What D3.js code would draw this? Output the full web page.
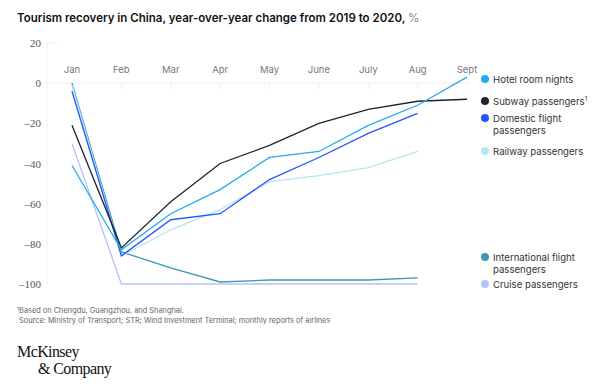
<!DOCTYPE html>
<html>
<head>
<meta charset="utf-8">
<script src="https://cdn.jsdelivr.net/npm/d3@7"></script>
<style>
  body { margin: 0; background: #fff; }
  svg { display: block; }
</style>
</head>
<body>
<svg id="chart" width="600" height="386"></svg>
<script>
// months and y ticks
const months = ['Jan', 'Feb', 'Mar', 'Apr', 'May', 'June', 'July', 'Aug', 'Sept'];
const yTicks = [20, 0, -20, -40, -60, -80, -100];

// series values (null = no data)
const hotel = [-41, -83, -65, -53, -37, -34, -21, -11, 3];
const subway = [-21, -82, -59, -40, -31, -20, -13, -9, -8];
const domestic = [-4, -86, -68, -65, -48, -37, -25, -15, null];
const railway = [-1, -86, -73, -63, -49, -46, -42, -34, null];
const international = [0, -84, -92, -99, -98, -98, -98, -97, null];
const cruise = [-30, -100, -100, -100, -100, -100, -100, -100, null];

const series = [
  { name: ['Hotel room nights'], values: hotel, color: '#27a8f2', ly: 79 },
  { name: ['Subway passengers'], sup: true, values: subway, color: '#1c2431', ly: 101 },
  { name: ['Domestic flight', 'passengers'], values: domestic, color: '#2456ff', ly: 118 },
  { name: ['Railway passengers'], values: railway, color: '#b4e6f0', ly: 151 },
  { name: ['International flight', 'passengers'], values: international, color: '#3d98b3', ly: 257 },
  { name: ['Cruise passengers'], values: cruise, color: '#b2c3fb', ly: 284 }
];

const svg = d3.select('#chart');

const x = d3.scalePoint().domain(months).range([72, 467]);
const y = d3.scaleLinear().domain([-100, 20]).range([284, 43]);

// title
const title = svg.append('text')
  .attr('x', 17).attr('y', 21.5)
  .attr('font-family', 'Inter, "Noto Sans", sans-serif')
  .attr('font-size', 11.5)
  .attr('fill', '#111');
title.append('tspan').attr('font-weight', 600)
  .text('Tourism recovery in China, year-over-year change from 2019 to 2020, ');
title.append('tspan').attr('fill', '#888').text('%');

// y axis line and tick labels
svg.append('line')
  .attr('x1', 47).attr('x2', 47)
  .attr('y1', y(20)).attr('y2', y(-100))
  .attr('stroke', '#f0f0f0');

svg.append('line')
  .attr('x1', 47).attr('x2', 58)
  .attr('y1', y(20)).attr('y2', y(20))
  .attr('stroke', '#f0f0f0');

svg.append('line')
  .attr('x1', 47).attr('x2', 470)
  .attr('y1', y(0)).attr('y2', y(0))
  .attr('stroke', '#f0f0f0');

svg.selectAll('.ytick')
  .data(yTicks)
  .enter()
  .append('text')
  .attr('x', 41)
  .attr('y', d => y(d) + 4)
  .attr('text-anchor', 'end')
  .attr('font-family', '"Liberation Serif", serif')
  .attr('font-size', 11)
  .attr('fill', '#555')
  .text(d => d < 0 ? '\u2013' + Math.abs(d) : d);

// month labels and ticks
svg.selectAll('.month')
  .data(months)
  .enter()
  .append('text')
  .attr('x', d => x(d))
  .attr('y', 73)
  .attr('text-anchor', 'middle')
  .attr('font-family', 'Inter, "Noto Sans", sans-serif')
  .attr('font-size', 9.5)
  .attr('fill', '#777')
  .text(d => d);

svg.selectAll('.mtick')
  .data(months)
  .enter()
  .append('line')
  .attr('x1', d => x(d)).attr('x2', d => x(d))
  .attr('y1', y(0)).attr('y2', y(0) + 6)
  .attr('stroke', '#f0f0f0');

// lines, drawn bottom to top
const line = d3.line()
  .defined(d => d.v !== null)
  .x(d => x(d.m))
  .y(d => y(d.v));

series.slice().reverse().forEach(s => {
  svg.append('path')
    .datum(s.values.map((v, i) => ({ m: months[i], v: v })))
    .attr('fill', 'none')
    .attr('stroke', s.color)
    .attr('stroke-width', 1.3)
    .attr('d', line);
});

// legend
series.forEach(s => {
  svg.append('circle')
    .attr('cx', 485).attr('cy', s.ly)
    .attr('r', 4)
    .attr('fill', s.color);
  const t = svg.append('text')
    .attr('x', 493).attr('y', s.ly + 3.5)
    .attr('font-family', 'Inter, "Noto Sans", sans-serif')
    .attr('font-size', 9.6)
    .attr('fill', '#333');
  s.name.forEach((n, i) => {
    t.append('tspan').attr('x', 493).attr('dy', i === 0 ? 0 : 12.5).text(n);
  });
  if (s.sup) {
    t.append('tspan').attr('font-size', 6).attr('dy', -4).text('1');
  }
});

// footnotes
const foot = svg.append('g')
  .attr('font-family', 'Inter, "Noto Sans", sans-serif')
  .attr('font-size', 7.4)
  .attr('fill', '#666');
const f1 = foot.append('text').attr('x', 17).attr('y', 313);
f1.append('tspan').attr('font-size', 5).attr('dy', -2).text('1');
f1.append('tspan').attr('dy', 2).text('Based on Chengdu, Guangzhou, and Shanghai.');
foot.append('text').attr('x', 19).attr('y', 323)
  .text('Source: Ministry of Transport; STR; Wind Investment Terminal; monthly reports of airlines');

// logo
const logo = svg.append('g')
  .attr('font-family', '"Liberation Serif", "DejaVu Serif", serif')
  .attr('font-size', 16)
  .attr('fill', '#111');
logo.append('text').attr('x', 17).attr('y', 357).attr('letter-spacing', -0.6).text('McKinsey');
logo.append('text').attr('x', 38).attr('y', 374).attr('letter-spacing', -0.6).text('& Company');
</script>
</body>
</html>
